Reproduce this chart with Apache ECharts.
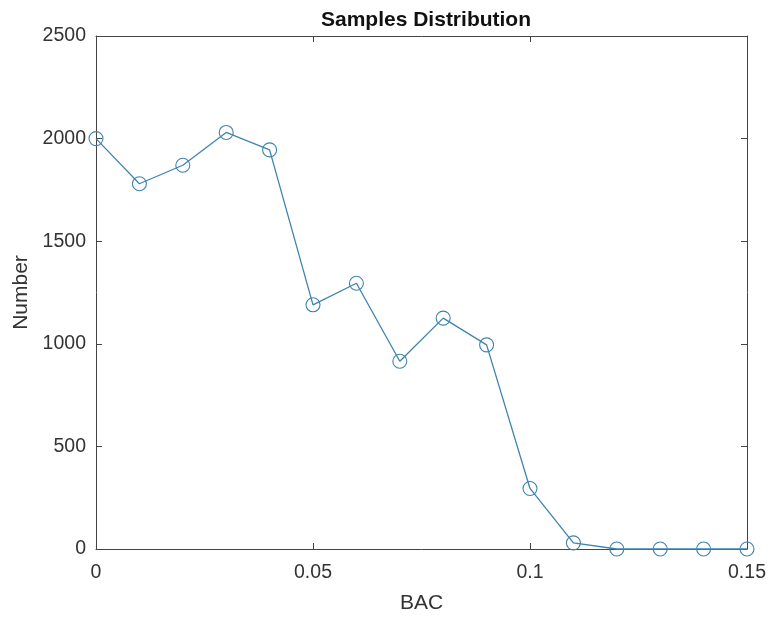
<!DOCTYPE html>
<html>
<head>
    <meta charset="utf-8"/>
    <title>Samples Distribution</title>
    <script src="https://cdn.jsdelivr.net/npm/echarts@6/dist/echarts.min.js"></script>
    <style>
        html, body { margin: 0; padding: 0; background: #fff; }
        #main { width: 771px; height: 618px; }
    </style>
</head>
<body>
<div id="main"></div>
<script type="text/javascript">
    // values
    var bac = [0, 0.01, 0.02, 0.03, 0.04, 0.05, 0.06, 0.07, 0.08, 0.09, 0.1, 0.11, 0.12, 0.13, 0.14, 0.15];
    var counts = [2000, 1780, 1870, 2030, 1945, 1190, 1295, 915, 1125, 995, 295, 30, 0, 0, 0, 0];
    var xTicks = [0, 0.05, 0.1, 0.15];
    var yTicks = [0, 500, 1000, 1500, 2000, 2500];

    var fontFamily = '"Liberation Sans", Arial, sans-serif';
    var axisColor = '#333333';
    var lineColor = '#3f84ad';

    var myChart = echarts.init(document.getElementById('main'));

    var points = bac.map(function (x, i) { return [x, counts[i]]; });

    // box axes look the same on all sides, only bottom/left carry labels
    function xAxisCfg(pos, showLabel) {
        return {
            type: 'value',
            position: pos,
            min: xTicks[0],
            max: xTicks[xTicks.length - 1],
            interval: 0.05,
            name: showLabel ? 'BAC' : '',
            nameLocation: 'middle',
            nameGap: 44,
            nameTextStyle: { fontFamily: fontFamily, fontSize: 21, color: axisColor },
            axisLine: { show: true, onZero: false, lineStyle: { color: '#444', width: 1 } },
            axisTick: { show: true, inside: true, length: 6, lineStyle: { color: '#444' } },
            axisLabel: {
                show: showLabel,
                margin: 14,
                fontFamily: fontFamily,
                fontSize: 19.5,
                color: axisColor,
                formatter: function (v) { return String(Math.round(v * 100) / 100); }
            },
            splitLine: { show: false }
        };
    }

    function yAxisCfg(pos, showLabel) {
        return {
            type: 'value',
            position: pos,
            min: yTicks[0],
            max: yTicks[yTicks.length - 1],
            interval: 500,
            name: showLabel ? 'Number' : '',
            nameLocation: 'middle',
            nameGap: 62,
            nameTextStyle: { fontFamily: fontFamily, fontSize: 21, color: axisColor },
            axisLine: { show: true, onZero: false, lineStyle: { color: '#444', width: 1 } },
            axisTick: { show: true, inside: true, length: 6, lineStyle: { color: '#444' } },
            axisLabel: {
                show: showLabel,
                margin: 10,
                fontFamily: fontFamily,
                fontSize: 19.5,
                color: axisColor,
                formatter: function (v) { return String(v); }
            },
            splitLine: { show: false }
        };
    }

    myChart.setOption({
        backgroundColor: '#fff',
        animation: false,
        title: {
            text: 'Samples Distribution',
            left: 421,
            textAlign: 'center',
            top: 5,
            textStyle: { fontFamily: fontFamily, fontSize: 21, fontWeight: 'bold', color: '#111' }
        },
        grid: { left: 96, right: 24, top: 36, bottom: 69, containLabel: false, outerBoundsMode: 'none' },
        xAxis: [xAxisCfg('bottom', true), xAxisCfg('top', false)],
        yAxis: [yAxisCfg('left', true), yAxisCfg('right', false)],
        series: [{
            type: 'line',
            data: points,
            symbol: 'circle',
            symbolSize: 14,
            lineStyle: { color: lineColor, width: 1.3 },
            itemStyle: { color: 'rgba(0,0,0,0)', borderColor: lineColor, borderWidth: 1.1 },
            clip: false
        }]
    });
</script>
</body>
</html>
